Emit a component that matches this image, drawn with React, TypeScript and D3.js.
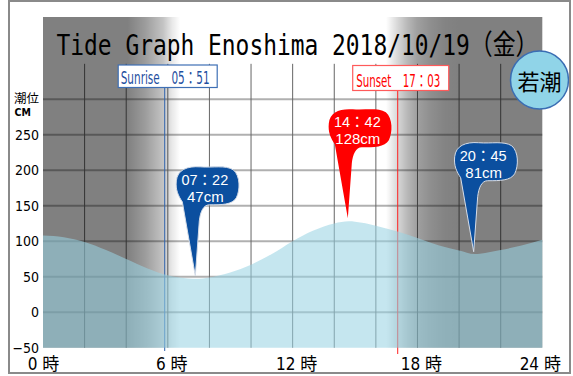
import React from "react";
import * as d3 from "d3";

// ---- data ----
const hours = [0, 1, 2, 3, 4, 5, 6, 7, 7.37, 8, 9, 10, 11, 12, 13, 14, 14.7, 15, 16, 17, 18, 19, 20, 20.75, 21, 22, 23, 24];
const levels = [108, 105.5, 99, 88, 75, 62, 52, 47.5, 47, 49, 56, 67, 82, 100, 115, 125, 128, 127.5, 122, 114, 104.5, 94.5, 87, 82, 82.5, 87.5, 94, 102];

const extremeHours = [7.37, 14.7, 20.75];
const extremeTimes = ["07：22", "14：42", "20：45"];
const extremeLevels = [47, 128, 81];
const extremeKinds = ["low", "high", "low"];

const sunriseHour = 5.85;
const sunsetHour = 17.05;
const sunriseLabel = "Sunrise　05：51";
const sunsetLabel = "Sunset　17：03";

const yTicks = [-50, 0, 50, 100, 150, 200, 250];
const yGrid = [0, 50, 100, 150, 200, 250, 300];
const xTicks = [0, 6, 12, 18, 24];
const xGrid = [2, 4, 6, 8, 10, 12, 14, 16, 18, 20, 22];

const titleLatin = "Tide Graph Enoshima 2018/10/19";
const titleDay = "（金）";
const moonAge = "若潮";

// ---- drawing ----
const W = 573;
const H = 376;
const NARROW = "'Liberation Sans Narrow', 'Arial Narrow', 'DejaVu Sans Condensed', 'Noto Sans CJK JP', sans-serif";
const CJK = "'Noto Sans CJK JP', sans-serif";

export default function App() {
  const x = d3.scaleLinear().domain([0, 24]).range([43, 542.3]);
  const y = d3.scaleLinear().domain([-50, 300]).range([347.7, 99.3]);

  const area = d3
    .area<number>()
    .x((_, i) => x(hours[i]))
    .y0(y(-50))
    .y1((d) => y(d))
    .curve(d3.curveMonotoneX);

  // night overlay alpha stops, relative to sunrise / sunset (hours, alpha)
  const dawn: [number, number][] = [[-1.8, 0.5], [-0.95, 0.39], [-0.08, 0.235], [0.35, 0.09], [0.74, 0]];
  const dusk: [number, number][] = [[-0.56, 0], [0, 0.157], [0.45, 0.275], [0.93, 0.373], [1.56, 0.44], [2.28, 0.486], [3, 0.5]];
  const stops: [number, number][] = [
    [0, 0.5],
    ...dawn.map(([h, a]) => [sunriseHour + h, a] as [number, number]),
    ...dusk.map(([h, a]) => [sunsetHour + h, a] as [number, number]),
    [24, 0.5],
  ];

  const balloon = (tx: number, ty: number) =>
    `M${tx},${ty} L${tx - 13},${ty - 74} C${tx - 17},${ty - 80} ${tx - 20},${ty - 86} ${tx - 19},${ty - 95} ` +
    `C${tx - 18},${ty - 106} ${tx - 8},${ty - 110} ${tx + 5},${ty - 109} ` +
    `C${tx + 18},${ty - 108} ${tx + 30},${ty - 111} ${tx + 38},${ty - 106} ` +
    `C${tx + 45},${ty - 100} ${tx + 45},${ty - 86} ${tx + 41},${ty - 78} ` +
    `C${tx + 37},${ty - 71} ${tx + 26},${ty - 71} ${tx + 14},${ty - 71} ` +
    `C${tx + 8},${ty - 71} ${tx + 5},${ty - 64} ${tx + 4},${ty - 55} Z`;

  const plotTop = 17;
  const xs = x(sunriseHour);
  const xe = x(sunsetHour);
  const titleScale = 0.82;

  return (
    <svg width={W} height={H} style={{ position: "absolute", left: 0, top: 0, background: "#fff" }}>
      <defs>
        <linearGradient id="night" gradientUnits="userSpaceOnUse" x1={x(0)} x2={x(24)} y1={0} y2={0}>
          {stops.map(([h, a], i) => (
            <stop key={i} offset={Math.max(0, Math.min(1, h / 24))} stopColor="#000" stopOpacity={a} />
          ))}
        </linearGradient>
      </defs>

      {/* grid */}
      {yGrid.map((v) => (
        <line key={"h" + v} x1={x(0)} x2={x(24)} y1={y(v)} y2={y(v)} stroke="#b0b0b0" strokeWidth={2} />
      ))}
      {xGrid.map((h) => (
        <line key={"v" + h} x1={x(h)} x2={x(h)} y1={y(350)} y2={y(-50)} stroke="#666" strokeWidth={1} />
      ))}

      {/* night overlay */}
      <rect x={x(0)} y={plotTop} width={x(24) - x(0)} height={y(-50) - plotTop} fill="url(#night)" />

      {/* title */}
      <g transform={`translate(56.5,55) scale(${titleScale},1)`}>
        <text x={0} y={0} fontSize={28} fontFamily="'DejaVu Sans Mono', monospace" fill="#000" textLength={482 / titleScale} lengthAdjust="spacingAndGlyphs">
          {titleLatin}
          <tspan fontFamily={CJK}>{titleDay}</tspan>
        </text>
      </g>

      {/* sunrise / sunset lines */}
      <line x1={xs} x2={xs} y1={87} y2={351} stroke="#2f62ad" strokeWidth={1} />
      <line x1={xe} x2={xe} y1={90} y2={354} stroke="#ff2020" strokeWidth={1} />

      {/* water */}
      <path d={area(levels) || ""} fill="rgb(153,211,227)" fillOpacity={0.57} />

      {/* sunrise / sunset boxes */}
      <rect x={xs + 3 - 49.5} y={65} width={99} height={22.5} fill="#fff" stroke="#3e6fb5" strokeWidth={1.2} />
      <text x={xs + 3 - 47} y={83.5} fontSize={17} fontFamily={NARROW} fill="#1f4f9f" textLength={89} lengthAdjust="spacingAndGlyphs">
        {sunriseLabel}
      </text>
      <rect x={xe + 3 - 48} y={65.5} width={96} height={25} fill="#fff" stroke="#ff5a5a" strokeWidth={1.2} />
      <text x={xe + 3 - 44.5} y={86.5} fontSize={17} fontFamily={NARROW} fill="#ff0000" textLength={84} lengthAdjust="spacingAndGlyphs">
        {sunsetLabel}
      </text>

      {/* moon age badge */}
      <circle cx={539.5} cy={80} r={29} fill="#90d4e8" stroke="#3a6db3" strokeWidth={1.5} />
      <text x={539.5} y={89.5} fontSize={22} fontFamily={CJK} textAnchor="middle" fill="#000">
        {moonAge}
      </text>

      {/* callouts */}
      {extremeHours.map((h, i) => {
        const tx = x(h) - 1;
        const ty = y(extremeLevels[i]) - 3;
        const high = extremeKinds[i] === "high";
        return (
          <g key={"c" + i}>
            <path
              d={balloon(tx, ty)}
              fill={high ? "#ff0000" : "#0b4f9f"}
              stroke={high ? "none" : "#d6dde8"}
              strokeWidth={1}
            />
            <text x={tx + 9.5} y={ty - 91} fontSize={14.5} fontFamily="'Liberation Sans', 'Noto Sans CJK JP', sans-serif" fill="#fff" textAnchor="middle">
              {extremeTimes[i]}
            </text>
            <text x={tx + 10} y={ty - 74} fontSize={15} fontFamily="'Liberation Sans', 'Noto Sans CJK JP', sans-serif" fill="#fff" textAnchor="middle">
              {extremeLevels[i] + "cm"}
            </text>
          </g>
        );
      })}

      {/* y axis labels */}
      <text x={14} y={103} fontSize={12.5} fontFamily={CJK} fill="#000">潮位</text>
      <text x={14.5} y={116} fontSize={10.5} fontWeight="bold" fontFamily={NARROW} fill="#000">CM</text>
      {yTicks.map((v) => (
        <text key={"yl" + v} x={39} y={y(v) + 5} fontSize={14} fontFamily={NARROW} textAnchor="end" fill="#000">
          {v < 0 ? "−" + Math.abs(v) : String(v)}
        </text>
      ))}

      {/* x axis labels */}
      {xTicks.map((h) => (
        <text key={"xl" + h} x={x(h) + (h === 0 ? 0.5 : h === 24 ? -2 : 4)} y={370} fontSize={17} fontFamily={NARROW} textAnchor="middle" fill="#000">
          {h + " 時"}
        </text>
      ))}

      {/* outer frame */}
      <rect x={9} y={1} width={561} height={372} fill="none" stroke="#8a8a8a" strokeWidth={2} />
    </svg>
  );
}
